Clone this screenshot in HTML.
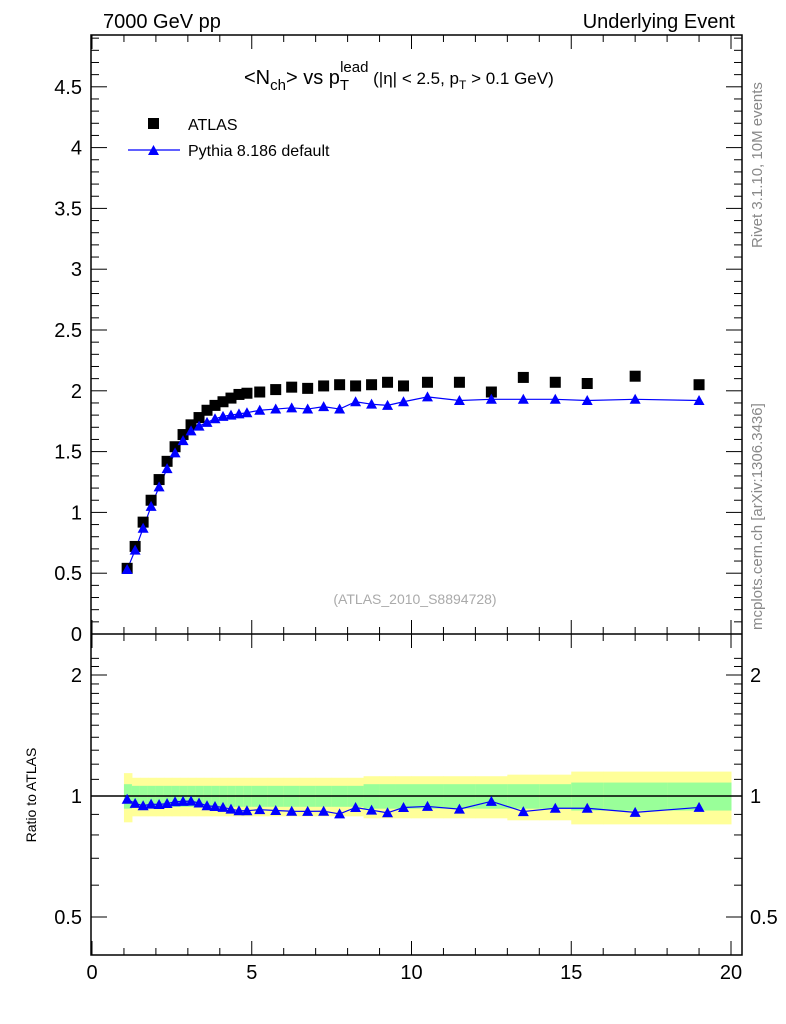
<!DOCTYPE html>
<html><head><meta charset="utf-8"><style>
body{margin:0;background:#fff;}
svg{display:block;font-family:"Liberation Sans",sans-serif;}
</style></head><body>
<svg id="c" width="786" height="1024">
<rect x="0" y="0" width="786" height="1024" fill="#fff"/>
<g id="bands"></g>
<rect x="91" y="35" width="651" height="920" fill="none" stroke="#000" stroke-width="1.5"/>
<line x1="91" y1="634" x2="742" y2="634" stroke="#000" stroke-width="1.5"/>
<g id="axes"></g>
<g id="marks"></g>
<text x="103" y="28" font-size="20">7000 GeV pp</text>
<text x="735" y="28" font-size="20" text-anchor="end">Underlying Event</text>
<text x="244" y="84" font-size="20">&lt;N<tspan font-size="15" dy="6">ch</tspan><tspan dy="-6">&gt; vs p</tspan><tspan font-size="15" dy="6">T</tspan><tspan font-size="15" dx="-9" dy="-18">lead</tspan><tspan font-size="17" dy="12"> (|η| &lt; 2.5, p</tspan><tspan font-size="12" dy="5">T</tspan><tspan font-size="17" dy="-5"> &gt; 0.1 GeV)</tspan></text>
<rect x="148" y="118" width="11" height="11" fill="#000"/>
<text x="188" y="130" font-size="16">ATLAS</text>
<line x1="128" y1="150" x2="180" y2="150" stroke="#00f" stroke-width="1.2"/>
<polygon points="148,155 159,155 153.5,145" fill="#00f"/>
<text x="188" y="156" font-size="16">Pythia 8.186 default</text>
<text x="415" y="604" font-size="14" fill="#aaa" text-anchor="middle">(ATLAS_2010_S8894728)</text>
<text transform="translate(762,248) rotate(-90)" font-size="15" fill="#888">Rivet 3.1.10,  10M events</text>
<text transform="translate(762,630) rotate(-90)" font-size="15" fill="#888">mcplots.cern.ch [arXiv:1306.3436]</text>
<text transform="translate(36,795) rotate(-90)" font-size="14" text-anchor="middle">Ratio to ATLAS</text>
</svg>
<script>
const xs=[1.1,1.35,1.6,1.85,2.1,2.35,2.6,2.85,3.1,3.35,3.6,3.85,4.1,4.35,4.6,4.85,5.25,5.75,6.25,6.75,7.25,7.75,8.25,8.75,9.25,9.75,10.5,11.5,12.5,13.5,14.5,15.5,17,19];
const atlas=[0.54,0.72,0.92,1.10,1.27,1.42,1.54,1.64,1.72,1.78,1.84,1.88,1.91,1.94,1.97,1.98,1.99,2.01,2.03,2.02,2.04,2.05,2.04,2.05,2.07,2.04,2.07,2.07,1.99,2.11,2.07,2.06,2.12,2.05];
const pythia=[0.53,0.69,0.87,1.05,1.21,1.36,1.49,1.59,1.67,1.71,1.74,1.77,1.79,1.80,1.81,1.82,1.84,1.85,1.86,1.85,1.87,1.85,1.91,1.89,1.88,1.91,1.95,1.92,1.93,1.93,1.93,1.92,1.93,1.92];
const binEdges=[1,1.25,1.5,1.75,2,2.25,2.5,2.75,3,3.25,3.5,3.75,4,4.25,4.5,4.75,5,5.5,6,6.5,7,7.5,8,8.5,9,9.5,10,11,12,13,14,15,16,18,20];
const greenHalf=[0.07,0.06,0.06,0.06,0.06,0.06,0.06,0.06,0.06,0.06,0.06,0.06,0.06,0.06,0.06,0.06,0.06,0.06,0.06,0.06,0.06,0.06,0.06,0.07,0.07,0.07,0.07,0.07,0.07,0.07,0.07,0.08,0.08,0.08];
const yellowHalf=[0.14,0.11,0.11,0.11,0.11,0.11,0.11,0.11,0.11,0.11,0.11,0.11,0.11,0.11,0.11,0.11,0.11,0.11,0.11,0.11,0.11,0.11,0.11,0.12,0.12,0.12,0.12,0.12,0.12,0.13,0.13,0.15,0.15,0.15];
const xTicks=[0,5,10,15,20];
const yTicks=[0,0.5,1,1.5,2,2.5,3,3.5,4,4.5];
const rTicks=[0.5,1,2];
const NS="http://www.w3.org/2000/svg";
const X=v=>92+v*31.95;
const Y=v=>634-v*121.6;
const R=v=>796-121*Math.log2(v);
function mk(t,a,p){const e=document.createElementNS(NS,t);for(const k in a)e.setAttribute(k,a[k]);(p||document.getElementById('marks')).appendChild(e);return e;}
const bands=document.getElementById('bands'),axes=document.getElementById('axes');
for(let i=0;i<xs.length;i++){
  const x1=X(binEdges[i]),x2=X(binEdges[i+1]);
  let e=mk('rect',{x:x1,y:R(1+yellowHalf[i]),width:x2-x1+0.5,height:R(1-yellowHalf[i])-R(1+yellowHalf[i]),fill:'#ffff99'},bands);
  
  
  e=mk('rect',{x:x1,y:R(1+greenHalf[i]),width:x2-x1+0.5,height:R(1-greenHalf[i])-R(1+greenHalf[i]),fill:'#99ff99'},bands);
  
  
}
mk('line',{x1:91,y1:R(1),x2:742,y2:R(1),stroke:'#000','stroke-width':1.5},axes);
for(let v=0;v<=20;v+=1){
  const big=v%5==0,l=big?14:7;
  mk('line',{x1:X(v),y1:955,x2:X(v),y2:955-l,stroke:'#000'},axes);
  mk('line',{x1:X(v),y1:634,x2:X(v),y2:634-l,stroke:'#000'},axes);
  mk('line',{x1:X(v),y1:634,x2:X(v),y2:634+l,stroke:'#000'},axes);
  mk('line',{x1:X(v),y1:35,x2:X(v),y2:35+l,stroke:'#000'},axes);
}
xTicks.forEach(v=>{const t=mk('text',{x:X(v),y:979,'font-size':20,'text-anchor':'middle'},axes);t.textContent=v;

});
for(let v=0;v<=4.9;v+=0.1){
  const big=Math.abs(v*2-Math.round(v*2))<1e-6,l=big?16:8;
  mk('line',{x1:91,y1:Y(v),x2:91+l,y2:Y(v),stroke:'#000'},axes);
  mk('line',{x1:742,y1:Y(v),x2:742-l,y2:Y(v),stroke:'#000'},axes);
}
yTicks.forEach(v=>{const t=mk('text',{x:82,y:Y(v)+7,'font-size':20,'text-anchor':'end'},axes);t.textContent=v;

});
[0.5,0.6,0.7,0.8,0.9,1,1.1,1.2,1.3,1.4,1.5,1.6,1.7,1.8,1.9,2,2.1,2.2].forEach(v=>{
  const big=rTicks.includes(v),l=big?16:8;
  mk('line',{x1:91,y1:R(v),x2:91+l,y2:R(v),stroke:'#000'},axes);
  mk('line',{x1:742,y1:R(v),x2:742-l,y2:R(v),stroke:'#000'},axes);
});
rTicks.forEach(v=>{let t=mk('text',{x:82,y:R(v)+7,'font-size':20,'text-anchor':'end'},axes);t.textContent=v;


t=mk('text',{x:750,y:R(v)+7,'font-size':20},axes);t.textContent=v;

});
let pl=mk('polyline',{points:xs.map((x,i)=>X(x)+','+Y(pythia[i])).join(' '),fill:'none',stroke:'#00f','stroke-width':1.2});


xs.forEach((x,i)=>{
  const s=mk('rect',{x:X(x)-5.5,y:Y(atlas[i])-5.5,width:11,height:11,fill:'#000'});
  
  
  const px=X(x),py=Y(pythia[i]);
  const t=mk('polygon',{points:`${px-5.5},${py+4.5} ${px+5.5},${py+4.5} ${px},${py-5.5}`,fill:'#00f'});
  
  
});
const ratio=xs.map((x,i)=>pythia[i]/atlas[i]);
pl=mk('polyline',{points:xs.map((x,i)=>X(x)+','+R(ratio[i])).join(' '),fill:'none',stroke:'#00f','stroke-width':1.2});


xs.forEach((x,i)=>{
  const px=X(x),py=R(ratio[i]);
  const t=mk('polygon',{points:`${px-5.5},${py+4.5} ${px+5.5},${py+4.5} ${px},${py-5.5}`,fill:'#00f'});
  
  
});
</script>
</body></html>
